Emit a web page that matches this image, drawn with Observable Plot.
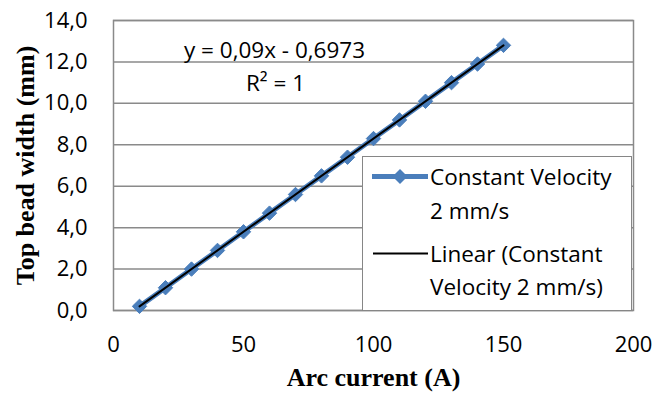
<!DOCTYPE html>
<html><head><meta charset="utf-8">
<script src="https://cdn.jsdelivr.net/npm/d3@7"></script>
<script src="https://cdn.jsdelivr.net/npm/@observablehq/plot@0.6"></script>
<style>
body{margin:0;background:#fff;}
#wrap{position:relative;width:670px;height:398px;}
.leg{position:absolute;left:362px;top:156px;width:270px;height:155px;border:1.5px solid #868686;background:#fff;box-sizing:border-box;font-family:"Open Sans",Lato,sans-serif;font-size:22.5px;color:#000;}
.leg .t{position:absolute;left:67px;height:34px;line-height:34px;white-space:nowrap;}
.leg svg{position:absolute;left:0;top:0;}
</style></head><body><div id="wrap"></div>
<script>
const arcCurrent = [10,20,30,40,50,60,70,80,90,100,110,120,130,140,150];
const beadWidth = [0.2,1.1,2.0,2.9,3.8,4.7,5.6,6.5,7.4,8.3,9.2,10.1,11.0,11.9,12.8];
const xTicks = [0,50,100,150,200];
const yTicks = [0,2,4,6,8,10,12,14];
const xTitle = "Arc current (A)";
const yTitle = "Top bead width (mm)";
const equationLines = ["y = 0,09x - 0,6973", "R² = 1"];
const seriesLines = ["Constant Velocity", "2 mm/s"];
const trendLines = ["Linear (Constant", "Velocity 2 mm/s)"];

const data = arcCurrent.map((x,i)=>({x, y: beadWidth[i]}));
const blue = "#4a7ebb", grid = "#8a8a8a";
const sansFont = "'Open Sans', Lato, sans-serif";
const serifFont = "'Liberation Serif', 'Times New Roman', serif";

const chart = Plot.plot({
  width: 670, height: 398,
  marginLeft: 113, marginRight: 37, marginTop: 20, marginBottom: 88,
  style: {background:"#fff", overflow:"visible"},
  x: {domain:[0,200]},
  y: {domain:[0,14]},
  marks: [
    Plot.gridY(yTicks, {stroke: grid, strokeOpacity: 1, strokeWidth: 1.5}),
    Plot.frame({stroke: grid, strokeWidth: 1.5}),
    Plot.axisY({ticks: yTicks, tickSize: 0, tickPadding: 26, label: null,
      tickFormat: d => d.toFixed(1).replace(".", ","),
      fontSize: 22, fontFamily: sansFont, fill: "#000"}),
    Plot.axisX({ticks: xTicks, tickSize: 0, tickPadding: 26, label: null,
      fontSize: 22, fontFamily: sansFont, fill: "#000"}),
    Plot.line(data, {x:"x", y:"y", stroke: blue, strokeWidth: 5}),
    Plot.dot(data, {x:"x", y:"y", symbol:"diamond2", r: 6.5, fill: blue, stroke: blue, strokeWidth: 1}),
    Plot.linearRegressionY(data, {x:"x", y:"y", stroke:"#000", strokeWidth: 2, ci: 0}),
    Plot.text([xTitle], {text: d=>d, frameAnchor:"bottom", dy: 75, textAnchor:"middle", fontSize: 26, fontWeight:"bold", fontFamily: serifFont, fill:"#000"}),
    Plot.text([yTitle], {text: d=>d, frameAnchor:"left", dx: -88, rotate: -90, textAnchor:"middle", fontSize: 26, fontWeight:"bold", fontFamily: serifFont, fill:"#000"}),
    Plot.text([equationLines[0]], {text: d=>d, frameAnchor:"top-left", textAnchor:"middle", lineAnchor:"middle", dx: 161, dy: 30, fontSize: 22.5, fontFamily: sansFont, fill:"#000"}),
    Plot.text([equationLines[1]], {text: d=>d, frameAnchor:"top-left", textAnchor:"middle", lineAnchor:"middle", dx: 162, dy: 63, fontSize: 22.5, fontFamily: sansFont, fill:"#000"})
  ]
});
const wrap = document.getElementById("wrap");
wrap.appendChild(chart);

// legend
const leg = document.createElement("div");
leg.className = "leg";
const centers = [21, 55, 98, 131];
const labels = [...seriesLines, ...trendLines];
labels.forEach((s,i)=>{
  const d = document.createElement("div");
  d.className = "t";
  d.style.top = (centers[i]-17-1.5) + "px";
  d.textContent = s;
  leg.appendChild(d);
});
const ns = "http://www.w3.org/2000/svg";
const sw = document.createElementNS(ns, "svg");
sw.setAttribute("width", 70); sw.setAttribute("height", 150);
const l1 = document.createElementNS(ns, "line");
Object.entries({x1:9,x2:65,y1:centers[0]-1.5,y2:centers[0]-1.5,stroke:blue,"stroke-width":5}).forEach(([k,v])=>l1.setAttribute(k,v));
sw.appendChild(l1);
const dm = document.createElementNS(ns, "path");
const cx = 37, cy = centers[0]-1.5, h = 7.5;
dm.setAttribute("d", `M${cx},${cy-h}L${cx+h},${cy}L${cx},${cy+h}L${cx-h},${cy}Z`);
dm.setAttribute("fill", blue);
sw.appendChild(dm);
const l2 = document.createElementNS(ns, "line");
Object.entries({x1:10,x2:65,y1:centers[2]-1.5,y2:centers[2]-1.5,stroke:"#000","stroke-width":2}).forEach(([k,v])=>l2.setAttribute(k,v));
sw.appendChild(l2);
leg.appendChild(sw);
wrap.appendChild(leg);
</script></body></html>
